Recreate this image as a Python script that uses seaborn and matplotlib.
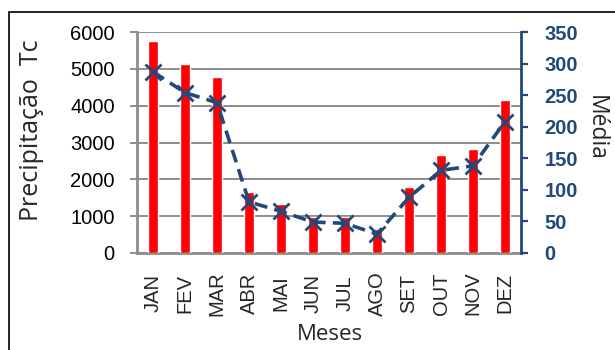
import numpy as np
import pandas as pd
import matplotlib
matplotlib.use("Agg")
import matplotlib.pyplot as plt
from matplotlib.patches import Rectangle
import seaborn as sns

meses = ["JAN", "FEV", "MAR", "ABR", "MAI", "JUN", "JUL", "AGO", "SET", "OUT", "NOV", "DEZ"]
precipitacao = [5750, 5120, 4780, 1660, 1330, 985, 985, 640, 1800, 2650, 2830, 4150]
media = [287, 254, 238, 81, 66, 49, 47, 30, 88, 131, 138, 208]
ticks_esq = [0, 1000, 2000, 3000, 4000, 5000, 6000]
ticks_dir = [0, 50, 100, 150, 200, 250, 300, 350]

sns.set_theme(style="white")
plt.rcParams["font.family"] = ["Liberation Sans", "DejaVu Sans"]

AZUL = "#23487A"
CINZA = "#8C8C8C"

df = pd.DataFrame({"mes": meses, "precip": precipitacao, "media": media})

fig = plt.figure(figsize=(6.15, 3.5), dpi=100)
ax = fig.add_axes([137 / 615, 1 - 253 / 350, (521 - 137) / 615, (253 - 32) / 350])

sns.barplot(data=df, x="mes", y="precip", color="#FF0000", saturation=1,
            width=0.33, ax=ax, zorder=3)
ax.set_ylim(0, 6000)
ax.set_xlim(-0.5, 11.5)
ax.set_yticks(ticks_esq)
ax.set_yticklabels([str(t) for t in ticks_esq], fontsize=14.5, color="black")
ax.yaxis.grid(True, color=CINZA, linewidth=1.4, zorder=0)
ax.set_axisbelow(True)
ax.tick_params(axis="y", left=True, length=5, width=1.4, color=CINZA, pad=11)
ax.tick_params(axis="x", bottom=False, length=0, pad=29)
ax.set_xticks(range(len(meses)))
ax.set_xticklabels(meses, rotation=90, fontsize=14.5, va="center", ha="center")
ax.set_xlabel("")
ax.set_ylabel("")
for side in ["top", "right"]:
    ax.spines[side].set_visible(False)
ax.spines["left"].set_color(CINZA)
ax.spines["left"].set_linewidth(2)
ax.spines["bottom"].set_color(CINZA)
ax.spines["bottom"].set_linewidth(2)

ax2 = ax.twinx()
sns.lineplot(x=np.arange(len(meses)), y=media, ax=ax2, color=AZUL,
             linewidth=2.6, linestyle=(0, (3.6, 2)), marker="x",
             markersize=11, markeredgewidth=2, markeredgecolor=AZUL, zorder=5)
ax2.set_ylim(0, 350)
ax2.set_yticks(ticks_dir)
ax2.set_yticklabels([str(t) for t in ticks_dir], fontsize=14.5,
                    fontweight="bold", color=AZUL)
ax2.tick_params(axis="y", right=True, length=5, width=1.6, color=AZUL, pad=12)
ax2.set_ylabel("")
for side in ["top", "left", "bottom"]:
    ax2.spines[side].set_visible(False)
ax2.spines["right"].set_color(AZUL)
ax2.spines["right"].set_linewidth(2)
ax2.grid(False)

fig.text(32 / 615, 1 - 130 / 350, "Precipitação  Tc", rotation=90,
         ha="center", va="center", fontsize=18, family=["Open Sans", "DejaVu Sans"])
fig.text(596 / 615, 1 - 128 / 350, "Média", rotation=270,
         ha="center", va="center", fontsize=16.5, family=["Open Sans", "DejaVu Sans"])
fig.text(330 / 615, 1 - 335 / 350, "Meses", ha="center", va="center",
         fontsize=16, family=["Open Sans", "DejaVu Sans"])

fig.patches.append(Rectangle((9 / 615, -0.5), 2, 0.5 + 1 - 12 / 350,
                             transform=fig.transFigure, fill=False,
                             edgecolor="black", linewidth=1.2))

fig.savefig("out.png", dpi=100)
